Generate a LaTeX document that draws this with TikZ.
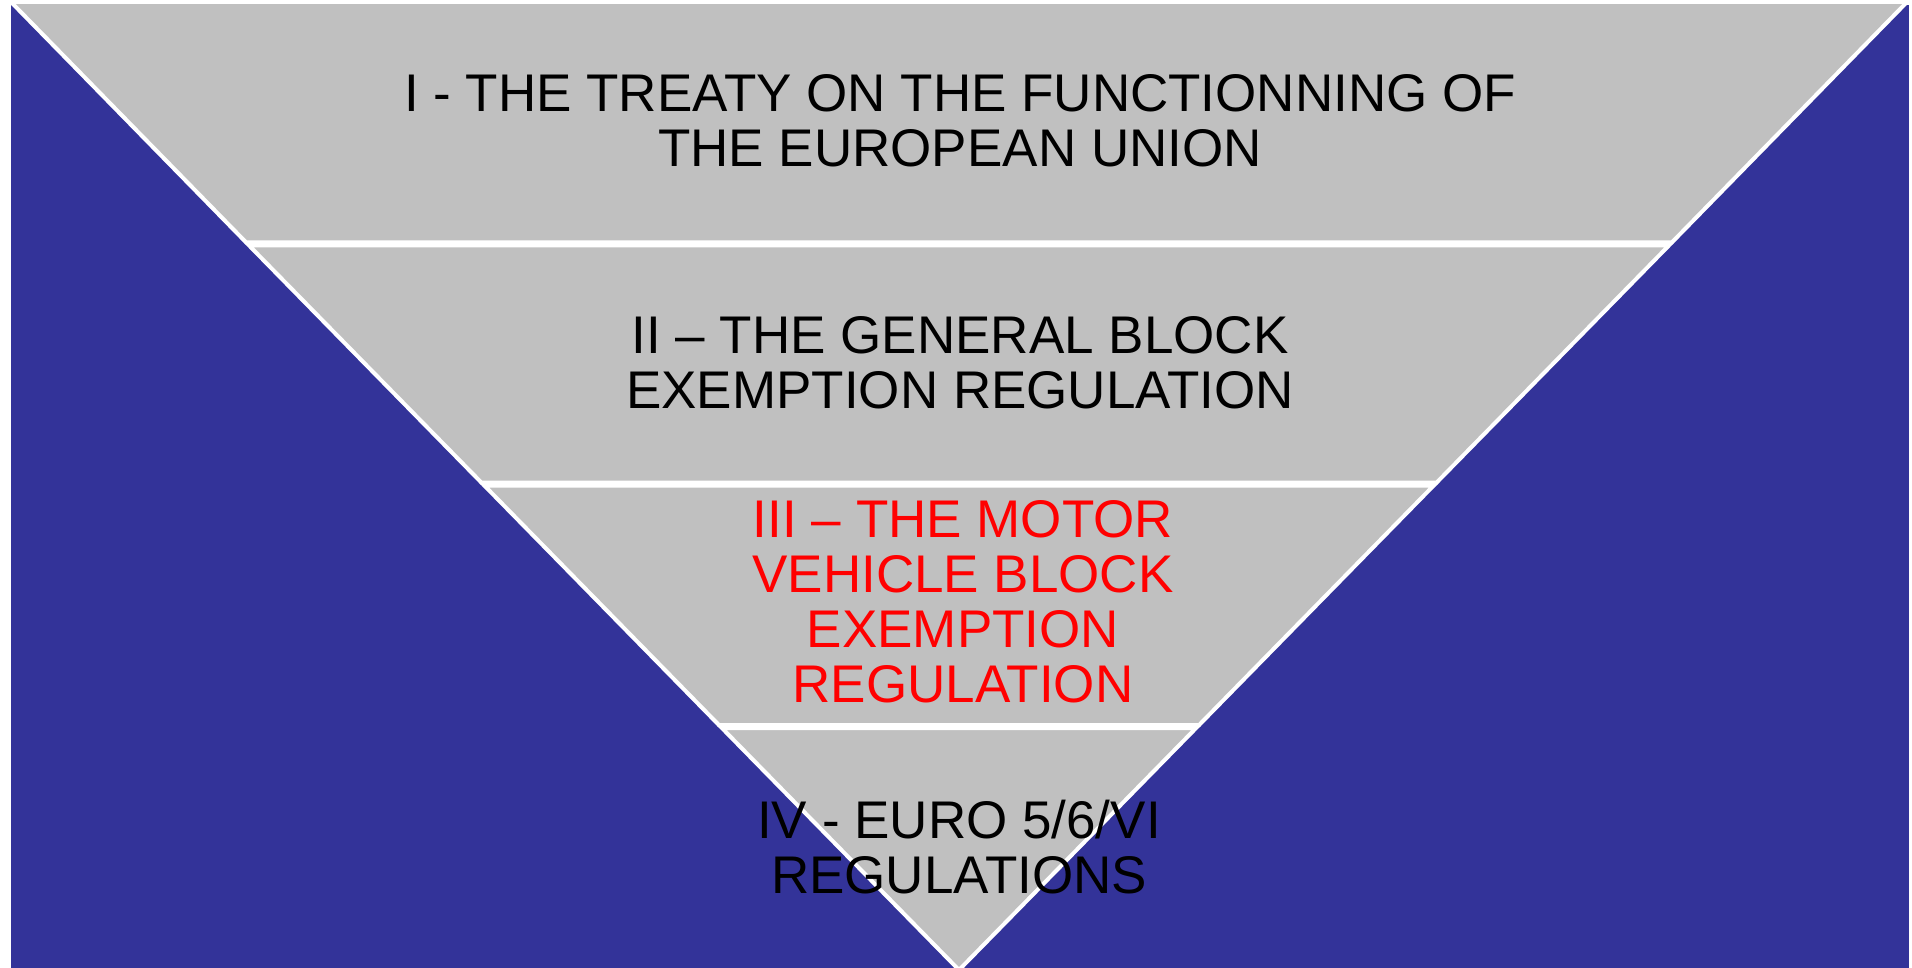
\documentclass[tikz,border=0pt]{standalone}
\usepackage{fontspec}
\setmainfont{Liberation Sans}
\definecolor{bgblue}{RGB}{51,51,153}
\definecolor{bandgrey}{RGB}{192,192,192}
\definecolor{bandred}{RGB}{255,0,0}
\begin{document}
\begin{tikzpicture}[x=1pt,y=-1pt,
  band/.style={fill=bandgrey,draw=white,line width=4pt,line join=miter},
  label/.style={anchor=base,align=center,inner sep=0pt,font=\fontsize{53}{55}\selectfont}]
\useasboundingbox (0,0) rectangle (1912,968);
\fill[bgblue] (11,5) rectangle (1909,968);
\clip (0,0) rectangle (1912,968);
% bands
\draw[band] (11,2) -- (1907,2) -- (1671.8,242.5) -- (246.2,242.5) -- cycle;
\draw[band] (249.1,245.5) -- (1668.9,245.5) -- (1436.7,482.5) -- (481.3,482.5) -- cycle;
\draw[band] (484.3,485.5) -- (1433.7,485.5) -- (1199.1,725) -- (718.9,725) -- cycle;
\draw[band] (721.9,728) -- (1196.1,728) -- (959,970) -- cycle;
% labels (base anchor = baseline of the last line)
\node[label] (l1) at (960,166.7) {I - THE TREATY ON THE FUNCTIONNING OF\\THE EUROPEAN UNION};
\node[label] (l2) at (960,408) {II – THE GENERAL BLOCK\\EXEMPTION REGULATION};
\node[label,text=bandred] (l3) at (963,702.7) {III – THE MOTOR\\VEHICLE BLOCK\\EXEMPTION\\REGULATION};
\node[label] (l4) at (959,893) {IV - EURO 5/6/VI\\REGULATIONS};
\end{tikzpicture}
\end{document}
